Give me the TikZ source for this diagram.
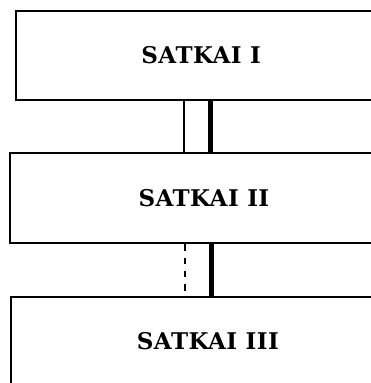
\documentclass[tikz,border=0pt]{standalone}
\usepackage{fontspec}
\setmainfont{DejaVu Serif}[LetterSpace=2]
\begin{document}
\begin{tikzpicture}[x=1pt,y=-1pt,
  box/.style={draw,line width=1.8pt,inner sep=0pt,anchor=west,font=\fontsize{23}{27}\selectfont\bfseries},
  thinline/.style={line width=2pt},
  thickline/.style={line width=5pt},
  dashline/.style={line width=2pt,dash pattern=on 6.5pt off 6.8pt}]
\useasboundingbox (0,0) rectangle (371,383);
\clip (0,0) rectangle (371,383);
\node[box,minimum width=370,minimum height=89] (b1) at (15.3,55.3) {SATKAI I};
\node[box,minimum width=388,minimum height=90] (b2) at (9,198.3) {SATKAI II};
\node[box,minimum width=394,minimum height=88] (b3) at (10,341) {SATKAI III};
\coordinate (xa) at (184.3,0);
\coordinate (xb) at (210.2,0);
\coordinate (xc) at (185,0);
\coordinate (xd) at (211.8,0);
\draw[thinline] (b1.south -| xa) -- (b2.north -| xa);
\draw[thickline] (b1.south -| xb) -- (b2.north -| xb);
\draw[dashline] (b2.south -| xc) -- (b3.north -| xc);
\draw[thickline] (b2.south -| xd) -- (b3.north -| xd);
\end{tikzpicture}
\end{document}
